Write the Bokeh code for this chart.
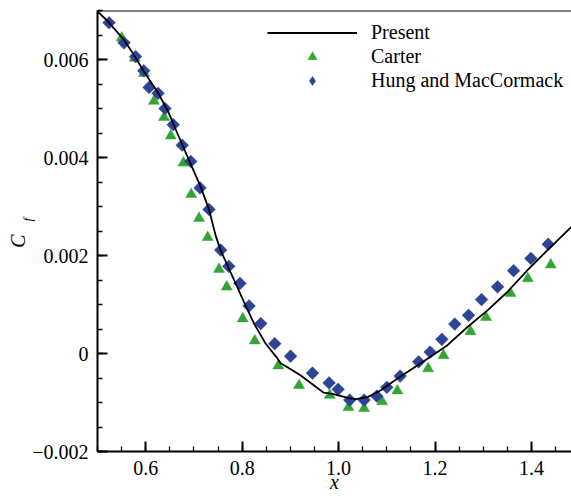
import numpy as np
from bokeh.plotting import figure
from bokeh.models import (FixedTicker, Span, Legend, LegendItem, Range1d,
                          ColumnDataSource, LinearAxis)
from bokeh.embed import file_html
from bokeh.resources import INLINE

# ---- data ----
present_x = [0.500, 0.5205, 0.555, 0.5757, 0.5965, 0.6243, 0.645, 0.6658, 0.6865, 0.7141,
             0.7313, 0.7452, 0.7556, 0.7695, 0.7832, 0.8039, 0.8247, 0.8489, 0.8732, 0.880,
             0.9008, 0.9215, 0.9693, 0.990, 1.0211, 1.0357, 1.0599, 1.0875, 1.1221, 1.1704,
             1.2258, 1.2673, 1.3088, 1.3503, 1.3918, 1.4333, 1.4836]
present_cf = [0.00698, 0.00679, 0.00640, 0.00609, 0.00575, 0.00534, 0.00497, 0.00449, 0.00402, 0.00340,
              0.00294, 0.00240, 0.00210, 0.00180, 0.00150, 0.00105, 0.00061, 0.00020, -0.00010, -0.00020,
              -0.00032, -0.00045, -0.00080, -0.00083, -0.00091, -0.00093, -0.00089, -0.00075, -0.00051, -0.00020,
              0.00017, 0.00054, 0.00088, 0.00126, 0.00170, 0.00211, 0.00259]

carter_x = [0.5502, 0.5772, 0.5965, 0.6172, 0.638, 0.6519, 0.6782, 0.6944, 0.7106, 0.7286,
            0.752, 0.768, 0.8012, 0.8261, 0.8749, 0.918, 0.9817, 1.0205, 1.0529, 1.0902,
            1.1218, 1.1857, 1.2176, 1.2736, 1.3059, 1.3565, 1.3924, 1.4401]
carter_cf = [0.00644, 0.00603, 0.00572, 0.00515, 0.00482, 0.00444, 0.00389, 0.00325, 0.00276, 0.00237,
             0.00172, 0.00136, 0.00071, 0.00026, -0.00025, -0.00065, -0.00085, -0.00110, -0.00112, -0.00098,
             -0.00076, -0.00031, -0.00004, 0.00045, 0.00074, 0.00123, 0.00153, 0.00181]

hung_x = [0.524, 0.555, 0.579, 0.596, 0.607, 0.6255, 0.640, 0.657, 0.6757, 0.6934,
          0.7127, 0.7313, 0.7556, 0.7722, 0.7954, 0.8143, 0.8386, 0.8676, 0.9004, 0.9458,
          0.9803, 0.999, 1.0232, 1.0529, 1.0793, 1.100, 1.1276, 1.166, 1.1898, 1.2141,
          1.241, 1.2695, 1.2965, 1.3297, 1.3629, 1.3988, 1.4347]
hung_cf = [0.00675, 0.00634, 0.00606, 0.00577, 0.00543, 0.00531, 0.00500, 0.00467, 0.00425, 0.00392,
           0.00338, 0.00294, 0.00211, 0.00178, 0.00143, 0.00097, 0.00061, 0.00020, -0.000055, -0.00040,
           -0.00060, -0.00073, -0.00095, -0.00095, -0.00087, -0.00069, -0.00046, -0.00017, 0.00003, 0.00029,
           0.00060, 0.00078, 0.00110, 0.00136, 0.00169, 0.00194, 0.00223]

x_ticks = [0.6, 0.8, 1.0, 1.2, 1.4]
x_tick_labels = ["0.6", "0.8", "1.0", "1.2", "1.4"]
y_ticks = [-0.002, 0.0, 0.002, 0.004, 0.006]
y_tick_labels = ["\u22120.002", "0", "0.002", "0.004", "0.006"]

series_names = ["Present", "Carter", "Hung and MacCormack"]
x_title = "x"
y_title_main = "C"
y_title_sub = "f"

# ---- styling ----
FONT = "Liberation Serif"
GREEN = "#33a532"
BLUE = "#2c4396"
NB = "\u00a0"

p = figure(width=571, height=496,
           x_range=Range1d(0.5, 1.483), y_range=Range1d(-0.002, 0.007),
           output_backend="svg", toolbar_location=None,
           min_border_left=97, min_border_right=0, min_border_top=10, min_border_bottom=45)
p.grid.visible = False
p.outline_line_color = None
p.background_fill_color = "white"
p.border_fill_color = "white"

x_minor = [round(v, 3) for v in np.arange(0.5, 1.5, 0.05)]
y_minor = [round(v, 5) for v in np.arange(-0.002, 0.0071, 0.0005)]
p.xaxis.ticker = FixedTicker(ticks=x_ticks, minor_ticks=x_minor)
p.yaxis.ticker = FixedTicker(ticks=y_ticks, minor_ticks=y_minor)
p.xaxis.major_label_overrides = dict(zip(x_ticks, x_tick_labels))
p.yaxis.major_label_overrides = dict(zip(y_ticks, y_tick_labels))

for ax in (p.xaxis, p.yaxis):
    ax.axis_line_width = 2
    ax.axis_line_color = "black"
    ax.major_tick_in = 10
    ax.major_tick_out = 0
    ax.minor_tick_in = 5
    ax.minor_tick_out = 0
    ax.major_tick_line_width = 2
    ax.minor_tick_line_width = 1.3
    ax.major_tick_line_color = "black"
    ax.minor_tick_line_color = "black"
    ax.major_label_text_font = FONT
    ax.major_label_text_font_size = "20px"
    ax.major_label_text_color = "black"
p.yaxis.major_label_standoff = 9
p.xaxis.major_label_standoff = 9


def title_axis(label, size, standoff):
    return LinearAxis(ticker=FixedTicker(ticks=[], minor_ticks=[]),
                      axis_label=label, axis_label_text_font=FONT,
                      axis_label_text_font_style="italic", axis_label_text_font_size=size,
                      axis_label_text_color="black", axis_label_standoff=standoff,
                      axis_line_color=None, major_tick_in=0, major_tick_out=0,
                      minor_tick_in=0, minor_tick_out=0, major_label_standoff=0,
                      major_label_text_font_size="0px")


# axis titles (title-only axes so the text sits outside the frame);
# no-break spaces nudge the rotated C / subscript f along the axis
p.add_layout(title_axis(x_title, "20px", -7), "below")
p.add_layout(title_axis(NB * 7 + y_title_sub, "13px", -5), "left")
p.add_layout(title_axis(y_title_main + NB * 4, "20px", -12), "left")

# top frame line
p.add_layout(Span(location=0.007, dimension="width", line_color="black", line_width=2))

src_c = ColumnDataSource(dict(x=carter_x, y=carter_cf))
src_h = ColumnDataSource(dict(x=hung_x, y=hung_cf))
src_p = ColumnDataSource(dict(x=present_x, y=present_cf))

r_c = p.scatter("x", "y", source=src_c, marker="triangle", size=11,
                fill_color=GREEN, line_color=GREEN, line_width=0.5)
r_h = p.scatter("x", "y", source=src_h, marker="square", angle=np.pi / 4, size=9,
                fill_color=BLUE, line_color=BLUE, line_width=0.5)
r_p = p.line("x", "y", source=src_p, line_color="black", line_width=1.8)

# legend-only keys (nothing drawn in the plot area)
key_src = ColumnDataSource(dict(x=np.array([np.nan]), y=np.array([np.nan])))
k_c = p.scatter("x", "y", source=key_src, marker="triangle", size=8,
                fill_color=GREEN, line_color=GREEN, line_width=0.5)
k_h = p.scatter("x", "y", source=key_src, marker="diamond", size=13,
                fill_color=BLUE, line_color=BLUE, line_width=0.5)

legend = Legend(items=[LegendItem(label=series_names[0], renderers=[r_p]),
                       LegendItem(label=series_names[1], renderers=[k_c]),
                       LegendItem(label=series_names[2], renderers=[k_h])],
                location=(170, 359), orientation="vertical",
                glyph_width=90, glyph_height=23, label_height=23, spacing=1,
                label_standoff=14, padding=0, margin=0,
                border_line_color=None, background_fill_alpha=0,
                label_text_font=FONT, label_text_font_size="20px", label_text_color="black")
p.add_layout(legend)

open("out.html", "w").write(file_html(p, INLINE))
